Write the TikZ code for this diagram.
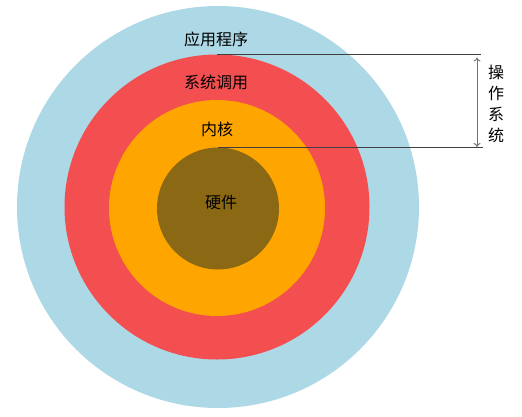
\documentclass[tikz,border=0pt]{standalone}
\usepackage{fontspec}
\setmainfont{Noto Sans CJK SC}
\usetikzlibrary{arrows.meta}
\definecolor{ringblue}{HTML}{ADD8E6}
\definecolor{ringred}{HTML}{F44F50}
\definecolor{ringorange}{HTML}{FFA500}
\definecolor{ringbrown}{HTML}{8B6914}
\tikzset{
  ring/.style={circle, inner sep=0pt, draw=none},
  lbl/.style={font=\fontsize{16}{18}\selectfont, text=black, inner sep=0pt},
  leader/.style={draw=black!75, line width=0.8pt},
  span/.style={draw=black!55, line width=1pt, {To[length=4pt,width=7pt]}-{To[length=4pt,width=7pt]}, shorten <=2pt, shorten >=1pt}
}
\begin{document}
\begin{tikzpicture}[x=1pt,y=-1pt]
\useasboundingbox (0,0) rectangle (522,416);
\node[ring, fill=ringblue, minimum size=402pt] (app) at (218,207) {};
\node[ring, fill=ringred, minimum size=305pt] (sys) at (217,207) {};
\node[ring, fill=ringorange, minimum size=216pt] (ker) at (217,208) {};
\node[ring, fill=ringbrown, minimum size=122pt] (hw) at (218,208.5) {};
\node[lbl] (tapp) at (216,39) {应用程序};
\node[lbl] (tsys) at (216,82) {系统调用};
\node[lbl] (tker) at (217,129) {内核};
\node[lbl] (thw) at (221,202) {硬件};
\coordinate (e1) at (481,55.5);
\coordinate (e2) at (483,148);
\draw[leader] (sys.north) -- (e1 |- sys.north);
\draw[leader] (hw.north) -- (e2 |- hw.north);
\coordinate (a1) at (477,55.5);
\coordinate (a2) at (477,148);
\draw[span] (a1) -- (a2);
\node[lbl, align=center, font=\fontsize{16}{21}\selectfont] (tos) at (496,104) {操\\作\\系\\统};
\end{tikzpicture}
\end{document}
